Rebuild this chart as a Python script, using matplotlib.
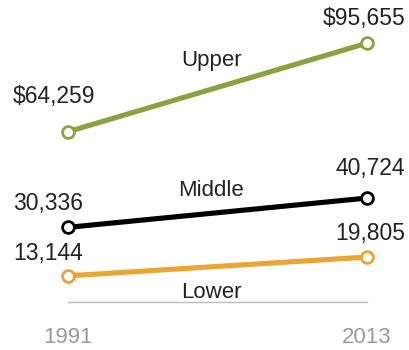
import matplotlib.pyplot as plt

years = [1991, 2013]
tiers = ['Upper', 'Middle', 'Lower']
upper = [64259, 95655]
middle = [30336, 40724]
lower = [13144, 19805]
value_labels = {
    'Upper': ['$64,259', '$95,655'],
    'Middle': ['30,336', '40,724'],
    'Lower': ['13,144', '19,805'],
}

series = {'Upper': upper, 'Middle': middle, 'Lower': lower}
colors = {'Upper': '#8ca23e', 'Middle': '#000000', 'Lower': '#eba436'}
# pixel offsets of the value labels (start, end) and of the tier name
start_dy = {'Upper': 35, 'Middle': 24, 'Lower': 22}
end_dy = {'Upper': 25, 'Middle': 30, 'Lower': 24}
name_dy = {'Upper': 27, 'Middle': 22, 'Lower': -26}

plt.rcParams['font.family'] = ['Liberation Sans', 'DejaVu Sans']

fig = plt.figure(figsize=(4.09, 3.5), dpi=100)
ax = fig.add_axes([68 / 409, 48 / 350, 299 / 409, 282 / 350])

for name in tiers:
    vals = series[name]
    ax.plot(years, vals, color=colors[name], lw=3.7, marker='o', ms=8.5,
            mfc='white', mec=colors[name], mew=2, clip_on=False, zorder=3,
            solid_capstyle='butt')
    ax.annotate(value_labels[name][0], (years[0], vals[0]),
                xytext=(-55, start_dy[name]), textcoords='offset pixels',
                ha='left', va='center', fontsize=16.5, color='#222222')
    ax.annotate(value_labels[name][1], (years[1], vals[1]),
                xytext=(38, end_dy[name]), textcoords='offset pixels',
                ha='right', va='center', fontsize=16.5, color='#222222')
    mid_x = (years[0] + years[1]) / 2
    mid_y = (vals[0] + vals[1]) / 2
    ax.annotate(name, (mid_x, mid_y), xytext=(-6, name_dy[name]),
                textcoords='offset pixels', ha='center', va='center',
                fontsize=16, color='#222222')

ax.set_xlim(1991.073, 2012.854)
ax.set_ylim(3865, 103865)
for s in ['top', 'left', 'right']:
    ax.spines[s].set_visible(False)
ax.spines['bottom'].set_color('#bbbbbb')
ax.spines['bottom'].set_linewidth(1)
ax.set_yticks([])
ax.set_xticks(years)
ax.set_xticklabels([str(y) for y in years])
ax.tick_params(axis='x', length=0, pad=18, labelsize=16, labelcolor='#999999')

fig.savefig('out.png', dpi=100)
